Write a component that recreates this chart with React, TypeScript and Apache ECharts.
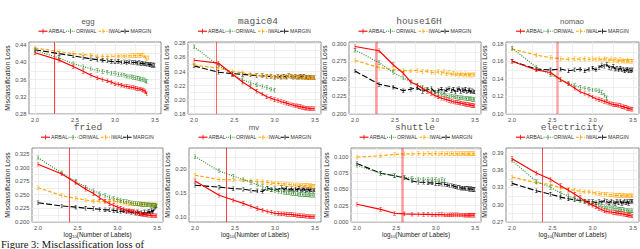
import React, { useEffect, useRef } from 'react';
import * as echarts from 'echarts';

// x positions: log10 of the number of labels (100, 200, ..., 3100)
const logLabels = [2.000, 2.301, 2.477, 2.602, 2.699, 2.778, 2.845, 2.903, 2.954, 3.000, 3.041, 3.079, 3.114, 3.146, 3.176, 3.204, 3.230, 3.255, 3.279, 3.301, 3.322, 3.342, 3.362, 3.380, 3.398, 3.415, 3.431, 3.447, 3.462, 3.477, 3.491];

const xTicks = [2.0, 2.5, 3.0, 3.5];
const methods = ['ARBAL', 'ORIWAL', 'IWAL', 'MARGIN'];
const datasetNames = ['egg', 'magic04', 'house16H', 'nomao', 'fried', 'mv', 'shuttle', 'electricity'];
const chosenLogLabels = [2.24, 2.28, 2.27, 2.56, 2.39, 2.39, 2.57, 2.37];

const eggTicks = [0.28, 0.32, 0.36, 0.40, 0.44];
const magic04Ticks = [0.18, 0.20, 0.22, 0.24, 0.26, 0.28];
const house16HTicks = [0.200, 0.225, 0.250, 0.275, 0.300];
const nomaoTicks = [0.10, 0.12, 0.14, 0.16, 0.18];
const friedTicks = [0.200, 0.225, 0.250, 0.275, 0.300, 0.325];
const mvTicks = [0.10, 0.15, 0.20];
const shuttleTicks = [0.000, 0.025, 0.050, 0.075, 0.100];
const electricityTicks = [0.27, 0.30, 0.33, 0.36, 0.39];

const N = null;
const egg_ARBAL = [0.422, 0.405, 0.390, 0.379, 0.370, 0.364, 0.360, 0.357, 0.354, 0.350, 0.349, 0.347, 0.345, 0.344, 0.343, 0.342, 0.341, 0.340, 0.339, 0.338, 0.338, 0.336, 0.335, 0.332, 0.327, N, N, N, N, N, N];
const egg_ORIWAL = [0.427, 0.410, 0.397, 0.390, 0.385, 0.381, 0.379, 0.377, 0.375, 0.374, 0.372, 0.371, 0.370, 0.368, 0.367, 0.366, 0.365, 0.364, 0.363, 0.362, 0.361, 0.360, 0.359, 0.357, 0.355, N, N, N, N, N, N];
const egg_IWAL = [0.433, 0.425, 0.420, 0.418, 0.416, 0.414, 0.414, 0.413, 0.414, 0.414, 0.415, 0.414, 0.415, 0.414, 0.415, 0.415, 0.416, 0.415, 0.416, 0.416, 0.416, 0.417, 0.415, 0.411, 0.408, 0.410, N, N, N, N, N];
const egg_MARGIN = [0.429, 0.420, 0.415, 0.411, 0.408, 0.406, 0.405, 0.403, 0.402, 0.401, 0.402, 0.400, 0.401, 0.399, 0.401, 0.400, 0.399, 0.400, 0.398, 0.399, 0.397, 0.398, 0.396, 0.397, 0.395, 0.396, 0.394, 0.395, 0.393, 0.394, 0.393];

const magic04_ARBAL = [0.256, 0.252, 0.236, 0.225, 0.218, 0.212, 0.208, 0.204, 0.202, 0.200, 0.199, 0.197, 0.196, 0.195, 0.194, 0.193, 0.192, 0.191, 0.191, 0.190, 0.190, 0.189, 0.189, 0.188, 0.188, 0.188, 0.187, 0.187, 0.187, 0.187, 0.187];
const magic04_ORIWAL = [0.275, 0.249, 0.236, 0.228, 0.224, 0.221, 0.219, 0.217, 0.215, 0.213, N, N, N, N, N, N, N, N, N, N, N, N, N, N, N, N, N, N, N, N, N];
const magic04_IWAL = [0.249, 0.245, 0.240, 0.238, 0.236, 0.235, 0.234, 0.233, 0.233, 0.232, 0.233, 0.233, 0.232, 0.233, 0.234, 0.233, 0.232, 0.233, 0.232, 0.233, 0.232, 0.231, 0.232, 0.231, 0.231, 0.232, 0.231, 0.231, 0.231, 0.231, 0.231];
const magic04_MARGIN = [0.248, 0.239, 0.237, 0.236, 0.235, 0.234, 0.234, 0.233, 0.233, 0.232, 0.233, 0.232, 0.233, 0.232, 0.234, 0.233, 0.232, 0.233, 0.232, 0.232, 0.233, 0.232, 0.233, 0.231, 0.232, 0.231, 0.232, 0.231, 0.231, 0.231, 0.231];

const house16H_ARBAL = [0.296, 0.290, 0.270, 0.258, 0.245, 0.241, 0.236, 0.232, 0.229, 0.226, 0.224, 0.222, 0.221, 0.220, 0.219, 0.218, 0.217, 0.2165, 0.216, 0.2155, 0.215, 0.2145, 0.214, 0.2135, 0.213, 0.2128, 0.2125, 0.212, 0.2118, 0.2115, 0.211];
const house16H_ORIWAL = [0.291, 0.273, 0.259, 0.251, 0.246, 0.241, 0.238, 0.235, 0.233, 0.231, 0.229, 0.228, 0.227, 0.226, 0.2255, 0.225, 0.2245, 0.224, 0.2235, 0.223, 0.223, 0.2225, 0.222, 0.222, 0.2215, 0.221, 0.221, 0.221, 0.2205, 0.2205, 0.220];
const house16H_IWAL = [0.276, 0.266, 0.263, 0.262, 0.261, 0.262, 0.260, 0.261, 0.259, 0.259, 0.260, 0.258, 0.260, 0.257, 0.259, 0.256, 0.258, 0.256, 0.257, 0.255, 0.257, 0.256, 0.255, 0.257, 0.255, 0.256, 0.255, 0.256, 0.255, 0.256, 0.256];
const house16H_MARGIN = [0.261, 0.242, 0.238, 0.233, 0.235, 0.237, 0.232, 0.234, 0.236, 0.231, 0.233, 0.235, 0.232, 0.234, 0.236, 0.233, 0.235, 0.231, 0.234, 0.236, 0.232, 0.234, 0.233, 0.235, 0.231, 0.233, 0.234, 0.231, 0.233, 0.232, 0.231];

const nomao_ARBAL = [0.160, 0.150, 0.147, 0.139, 0.134, 0.129, 0.125, 0.123, 0.121, 0.119, 0.117, 0.116, 0.115, 0.114, 0.113, 0.112, 0.111, 0.1105, 0.110, 0.110, 0.109, 0.109, 0.108, 0.108, 0.107, 0.107, 0.106, 0.106, 0.1055, 0.105, 0.105];
const nomao_ORIWAL = [0.175, 0.153, 0.145, 0.139, 0.135, 0.132, 0.130, 0.129, 0.128, 0.127, 0.127, 0.126, 0.124, 0.121, 0.118, N, N, N, N, N, N, N, N, N, N, N, N, N, N, N, N];
const nomao_IWAL = [0.174, 0.167, 0.164, 0.163, 0.162, 0.163, 0.162, 0.163, 0.162, 0.163, 0.162, 0.163, 0.161, 0.163, 0.162, 0.161, 0.163, 0.161, 0.162, 0.161, 0.160, 0.162, 0.160, 0.161, 0.160, 0.160, 0.161, 0.160, 0.160, 0.160, 0.160];
const nomao_MARGIN = [0.160, 0.151, 0.150, 0.151, 0.149, 0.150, 0.151, 0.149, 0.151, 0.152, 0.150, 0.153, 0.155, 0.154, 0.156, 0.153, 0.152, 0.154, 0.151, 0.152, 0.150, 0.152, 0.150, 0.151, 0.149, 0.150, 0.151, 0.149, 0.150, 0.149, 0.150];

const fried_ARBAL = [0.306, 0.288, 0.272, 0.260, 0.252, 0.244, 0.238, 0.233, 0.230, 0.227, 0.225, 0.223, 0.221, 0.220, 0.219, 0.218, 0.217, 0.216, 0.215, 0.214, 0.214, 0.213, 0.213, 0.212, 0.212, 0.212, 0.211, 0.211, 0.211, 0.211, 0.211];
const fried_ORIWAL = [0.318, 0.290, 0.274, 0.264, 0.257, 0.252, 0.248, 0.245, 0.243, 0.241, 0.240, 0.238, 0.237, 0.236, 0.235, 0.234, 0.234, 0.233, 0.233, 0.232, 0.232, 0.232, 0.231, 0.231, 0.231, 0.230, 0.230, 0.230, 0.230, 0.230, 0.229];
const fried_IWAL = [0.263, 0.248, 0.243, 0.240, 0.238, 0.238, 0.237, 0.238, 0.238, 0.237, 0.236, 0.235, 0.234, 0.233, 0.233, 0.234, 0.233, 0.233, 0.232, 0.233, 0.232, 0.232, 0.231, 0.232, 0.231, 0.231, 0.231, 0.231, 0.231, 0.231, 0.231];
const fried_MARGIN = [0.235, 0.229, 0.227, 0.225, 0.224, 0.223, 0.222, 0.222, 0.221, 0.220, 0.219, 0.220, 0.218, 0.219, 0.217, 0.218, 0.216, 0.218, 0.215, 0.217, 0.214, 0.218, 0.213, 0.217, 0.219, 0.215, 0.221, 0.218, 0.224, 0.227, 0.229];

const mv_ARBAL = [0.175, 0.145, 0.135, 0.128, 0.122, 0.117, 0.114, 0.111, 0.109, 0.107, 0.1065, 0.106, 0.106, 0.105, 0.105, 0.105, 0.104, 0.104, 0.103, 0.103, 0.102, 0.102, 0.102, 0.101, 0.101, 0.101, 0.100, 0.100, 0.100, 0.100, 0.100];
const mv_ORIWAL = [0.226, 0.196, 0.185, 0.178, 0.172, 0.167, 0.163, 0.159, 0.157, 0.154, 0.153, 0.152, 0.151, 0.150, 0.150, 0.149, 0.149, 0.148, 0.148, 0.147, 0.147, 0.147, 0.146, 0.146, 0.146, 0.146, 0.145, 0.145, 0.145, 0.145, 0.145];
const mv_IWAL = [0.187, 0.178, 0.177, 0.177, 0.175, 0.174, 0.173, 0.172, 0.171, 0.170, 0.170, 0.169, 0.169, 0.168, 0.168, 0.167, 0.167, 0.166, 0.167, 0.166, 0.166, 0.165, 0.166, 0.165, 0.165, 0.165, 0.164, 0.165, 0.164, 0.164, 0.164];
const mv_MARGIN = [0.166, 0.162, 0.159, 0.158, 0.155, 0.154, 0.153, 0.160, 0.157, 0.159, 0.156, 0.162, 0.157, 0.160, 0.156, 0.159, 0.155, 0.158, 0.156, 0.160, 0.155, 0.157, 0.159, 0.154, 0.157, 0.158, 0.155, 0.157, 0.156, 0.155, 0.156];

const shuttle_ARBAL = [0.027, 0.019, 0.013, 0.012, 0.0118, 0.0115, 0.0113, 0.0112, 0.011, 0.011, 0.0108, 0.0108, 0.0106, 0.0106, 0.0105, 0.0105, 0.0104, 0.0104, 0.0104, 0.0103, 0.0103, 0.0103, 0.0102, 0.0102, 0.0102, 0.0101, 0.0101, 0.0101, 0.010, 0.010, 0.010];
const shuttle_ORIWAL = [0.087, 0.075, 0.071, 0.069, 0.067, 0.066, 0.066, 0.065, 0.066, 0.065, 0.064, 0.065, 0.064, N, N, N, N, N, N, N, N, N, N, N, N, N, N, N, N, N, N];
const shuttle_IWAL = [0.100, 0.102, 0.104, 0.105, 0.105, 0.1052, 0.105, 0.1052, 0.105, 0.1052, 0.105, 0.1052, 0.105, 0.1052, 0.105, 0.1052, 0.105, 0.1052, 0.105, 0.1052, 0.105, 0.1052, 0.105, 0.1052, 0.105, 0.1052, 0.105, 0.1052, 0.105, 0.1052, 0.105];
const shuttle_MARGIN = [0.090, 0.075, 0.071, 0.068, 0.063, 0.061, 0.061, 0.060, 0.060, 0.059, 0.059, 0.058, 0.058, 0.057, 0.056, 0.056, 0.055, 0.054, 0.053, 0.053, 0.052, 0.052, 0.052, 0.051, 0.051, 0.051, 0.050, 0.051, 0.050, 0.050, 0.050];

const electricity_ARBAL = [0.380, 0.355, 0.344, 0.333, 0.325, 0.318, 0.312, 0.306, 0.302, 0.299, 0.296, 0.293, 0.291, 0.289, 0.288, 0.287, 0.287, 0.286, 0.286, 0.285, 0.285, 0.284, 0.284, 0.283, 0.283, 0.282, 0.282, 0.281, 0.281, 0.280, 0.280];
const electricity_ORIWAL = [0.377, 0.340, 0.330, 0.320, 0.315, 0.311, 0.308, 0.305, 0.303, 0.302, 0.300, 0.299, 0.297, 0.296, 0.296, 0.295, 0.294, 0.294, 0.293, 0.293, 0.292, 0.292, 0.291, 0.291, 0.290, 0.290, 0.290, 0.289, 0.289, 0.289, 0.289];
const electricity_IWAL = [0.348, 0.338, 0.335, 0.329, 0.326, 0.325, 0.323, 0.322, 0.322, 0.321, 0.320, 0.319, 0.318, 0.318, 0.318, 0.317, 0.317, 0.317, 0.316, 0.316, 0.316, 0.316, 0.315, 0.316, 0.315, 0.315, 0.315, 0.315, 0.315, 0.315, 0.315];
const electricity_MARGIN = [0.337, 0.324, 0.318, 0.313, 0.310, 0.308, 0.307, 0.306, 0.305, 0.305, 0.303, 0.306, 0.304, 0.307, 0.305, 0.303, 0.306, 0.304, 0.302, 0.305, 0.303, 0.306, 0.302, 0.304, 0.306, 0.303, 0.305, 0.302, 0.305, 0.306, 0.306];

const panelValues = [
  [egg_ARBAL, egg_ORIWAL, egg_IWAL, egg_MARGIN],
  [magic04_ARBAL, magic04_ORIWAL, magic04_IWAL, magic04_MARGIN],
  [house16H_ARBAL, house16H_ORIWAL, house16H_IWAL, house16H_MARGIN],
  [nomao_ARBAL, nomao_ORIWAL, nomao_IWAL, nomao_MARGIN],
  [fried_ARBAL, fried_ORIWAL, fried_IWAL, fried_MARGIN],
  [mv_ARBAL, mv_ORIWAL, mv_IWAL, mv_MARGIN],
  [shuttle_ARBAL, shuttle_ORIWAL, shuttle_IWAL, shuttle_MARGIN],
  [electricity_ARBAL, electricity_ORIWAL, electricity_IWAL, electricity_MARGIN],
];
const panelTicks = [eggTicks, magic04Ticks, house16HTicks, nomaoTicks, friedTicks, mvTicks, shuttleTicks, electricityTicks];

// layout (pixels) and axis ranges
const layout = [
  { l: 29, r: 161, t: 42, b: 114, ymin: 0.28, ymax: 0.447, dec: 2, tx: 88, mono: false, vw: 1, va: 0.75 },
  { l: 188, r: 321, t: 42, b: 114, ymin: 0.1795, ymax: 0.282, dec: 2, tx: 258, mono: true, vw: 1, va: 0.6 },
  { l: 349, r: 481, t: 42, b: 114, ymin: 0.1995, ymax: 0.3025, dec: 3, tx: 419, mono: true, vw: 2.5, va: 0.4 },
  { l: 506, r: 639, t: 42, b: 114, ymin: 0.0995, ymax: 0.182, dec: 2, tx: 572, mono: false, vw: 2.5, va: 0.35 },
  { l: 32, r: 163, t: 148, b: 222, ymin: 0.1995, ymax: 0.336, dec: 3, tx: 88, mono: true, vw: 1, va: 0.7 },
  { l: 189, r: 321, t: 148, b: 222, ymin: 0.089, ymax: 0.244, dec: 2, tx: 254, mono: false, vw: 1, va: 0.75 },
  { l: 351, r: 481, t: 148, b: 222, ymin: -0.0005, ymax: 0.114, dec: 3, tx: 415, mono: true, vw: 2.5, va: 0.4 },
  { l: 506, r: 639, t: 148, b: 222, ymin: 0.2695, ymax: 0.3987, dec: 2, tx: 572, mono: true, vw: 1, va: 0.7 },
];

const colors = ['#ff0000', '#2e8b2e', '#ffa500', '#000000'];
const dashes: any[] = ['solid', [1, 1.4], [3.5, 2], [6, 2.2]];
const keyDashes: any[] = [null, [1, 1.1], [2.6, 1.4], [3.6, 1.4]];
const keyOffsets = [0, 27.5, 60, 82];
const SANS = 'Liberation Sans, Arial, sans-serif';
const MONO = 'Liberation Mono, Courier New, monospace';
const ERRBAR = 'path://M1.6,0H2.4V10H1.6Z M0,0H4V0.9H0Z M0,9.1H4V10H0Z';

function buildOption() {
  const W = 640, H = 249;
  const grid: any[] = [], xAxis: any[] = [], yAxis: any[] = [], series: any[] = [], graphic: any[] = [];
  layout.forEach((p, k) => {
    const bottomRow = k >= 4;
    grid.push({ left: p.l, right: W - p.r, top: p.t, bottom: H - p.b, show: true, borderColor: '#6e6e6e', borderWidth: 0.8, backgroundColor: '#ffffff' });
    const ticks = panelTicks[k];
    const minors: number[] = [];
    for (let i = 0; i < ticks.length - 1; i++) minors.push((ticks[i] + ticks[i + 1]) / 2);
    if (ticks.length > 1) {
      const step = ticks[1] - ticks[0];
      const lo = ticks[0] - step / 2, hi = ticks[ticks.length - 1] + step / 2;
      if (lo > p.ymin) minors.push(lo);
      if (hi < p.ymax) minors.push(hi);
    }
    xAxis.push({
      gridIndex: k, type: 'value', min: 1.925, max: 3.575,
      axisLine: { show: false },
      axisTick: { show: false, customValues: [2.0, 2.25, 2.5, 2.75, 3.0, 3.25, 3.5] },
      axisLabel: { customValues: xTicks, formatter: (v: number) => v.toFixed(1), fontSize: 5.8, color: '#4d4d4d', margin: 2.5, fontFamily: SANS },
      splitLine: { show: true, lineStyle: { color: '#ebebeb', width: 0.8 } },
      name: bottomRow ? 'log{sub|10}(Number of Labels)' : '',
      nameLocation: 'middle', nameGap: 7,
      nameTextStyle: { fontSize: 6.4, color: '#222', fontFamily: SANS, rich: { sub: { fontSize: 4.3, fontFamily: SANS, color: '#222', padding: [3.5, 0, 0, 0] } } },
    });
    yAxis.push({
      gridIndex: k, type: 'value', min: p.ymin, max: p.ymax,
      axisLine: { show: false },
      axisTick: { show: false, customValues: [...ticks, ...minors] },
      axisLabel: { customValues: ticks, formatter: (v: number) => v.toFixed(p.dec), fontSize: 5.8, color: '#4d4d4d', margin: 2.5, fontFamily: SANS },
      splitLine: { show: true, lineStyle: { color: '#ebebeb', width: 0.8 } },
      name: 'Misclassification Loss', nameLocation: 'middle', nameRotate: 90,
      nameGap: p.dec === 3 ? 17 : 14,
      nameTextStyle: { fontSize: 6.8, color: '#222', fontFamily: SANS },
    });
    methods.forEach((m, j) => {
      const vals = panelValues[k][j];
      const data: number[][] = [];
      vals.forEach((v, i) => { if (v !== null) data.push([logLabels[i], v as number]); });
      const s: any = {
        type: 'line', name: m, xAxisIndex: k, yAxisIndex: k, data,
        symbol: ERRBAR, symbolSize: [2.6, 4.2],
        itemStyle: { color: colors[j] },
        lineStyle: { color: colors[j], width: 1.15, type: dashes[j] },
        z: 5 - j,
      };
      if (j === 0) {
        s.markLine = {
          silent: true, symbol: 'none', label: { show: false },
          lineStyle: { color: `rgba(255,0,0,${p.va})`, width: p.vw, type: 'solid' },
          data: [{ xAxis: chosenLogLabels[k] }],
        };
      }
      series.push(s);
    });
    // per-panel key (legend) row
    const cx = (p.l + p.r) / 2 + 1;
    const x0 = cx - 57.5;
    const ly = p.t - 10.8;
    methods.forEach((m, j) => {
      const x = x0 + keyOffsets[j];
      graphic.push({ type: 'line', silent: true, shape: { x1: x, y1: ly, x2: x + 9, y2: ly }, style: { stroke: colors[j], lineWidth: 1.1, lineDash: keyDashes[j] } });
      graphic.push({ type: 'line', silent: true, shape: { x1: x + 4.5, y1: ly - 2.4, x2: x + 4.5, y2: ly + 2.4 }, style: { stroke: colors[j], lineWidth: 0.8 } });
      graphic.push({ type: 'text', silent: true, x: x + 10, y: ly, style: { text: m, fontSize: 5.2, fill: '#333', verticalAlign: 'middle', fontFamily: SANS } });
    });
    graphic.push({
      type: 'text', x: p.tx, y: p.t - 21,
      style: { text: datasetNames[k], align: 'center', verticalAlign: 'middle', fontSize: p.mono ? 9.5 : 7.8, fontFamily: p.mono ? MONO : SANS, fill: '#555555' },
    });
  });
  graphic.push({
    type: 'text', x: 1, y: 249.5,
    style: { text: 'Figure 3: Misclassification loss of', verticalAlign: 'bottom', fontSize: 10.5, fontFamily: 'Liberation Serif, Times New Roman, serif', fill: '#111' },
  });
  return { animation: false, backgroundColor: '#ffffff', grid, xAxis, yAxis, series, graphic };
}

export default function App() {
  const ref = useRef<HTMLDivElement>(null);
  useEffect(() => {
    if (!ref.current) return;
    const chart = echarts.init(ref.current, undefined, { renderer: 'svg' });
    chart.setOption(buildOption() as any);
    return () => chart.dispose();
  }, []);
  return <div ref={ref} style={{ position: 'absolute', left: 0, top: 0, width: 640, height: 249 }} />;
}
